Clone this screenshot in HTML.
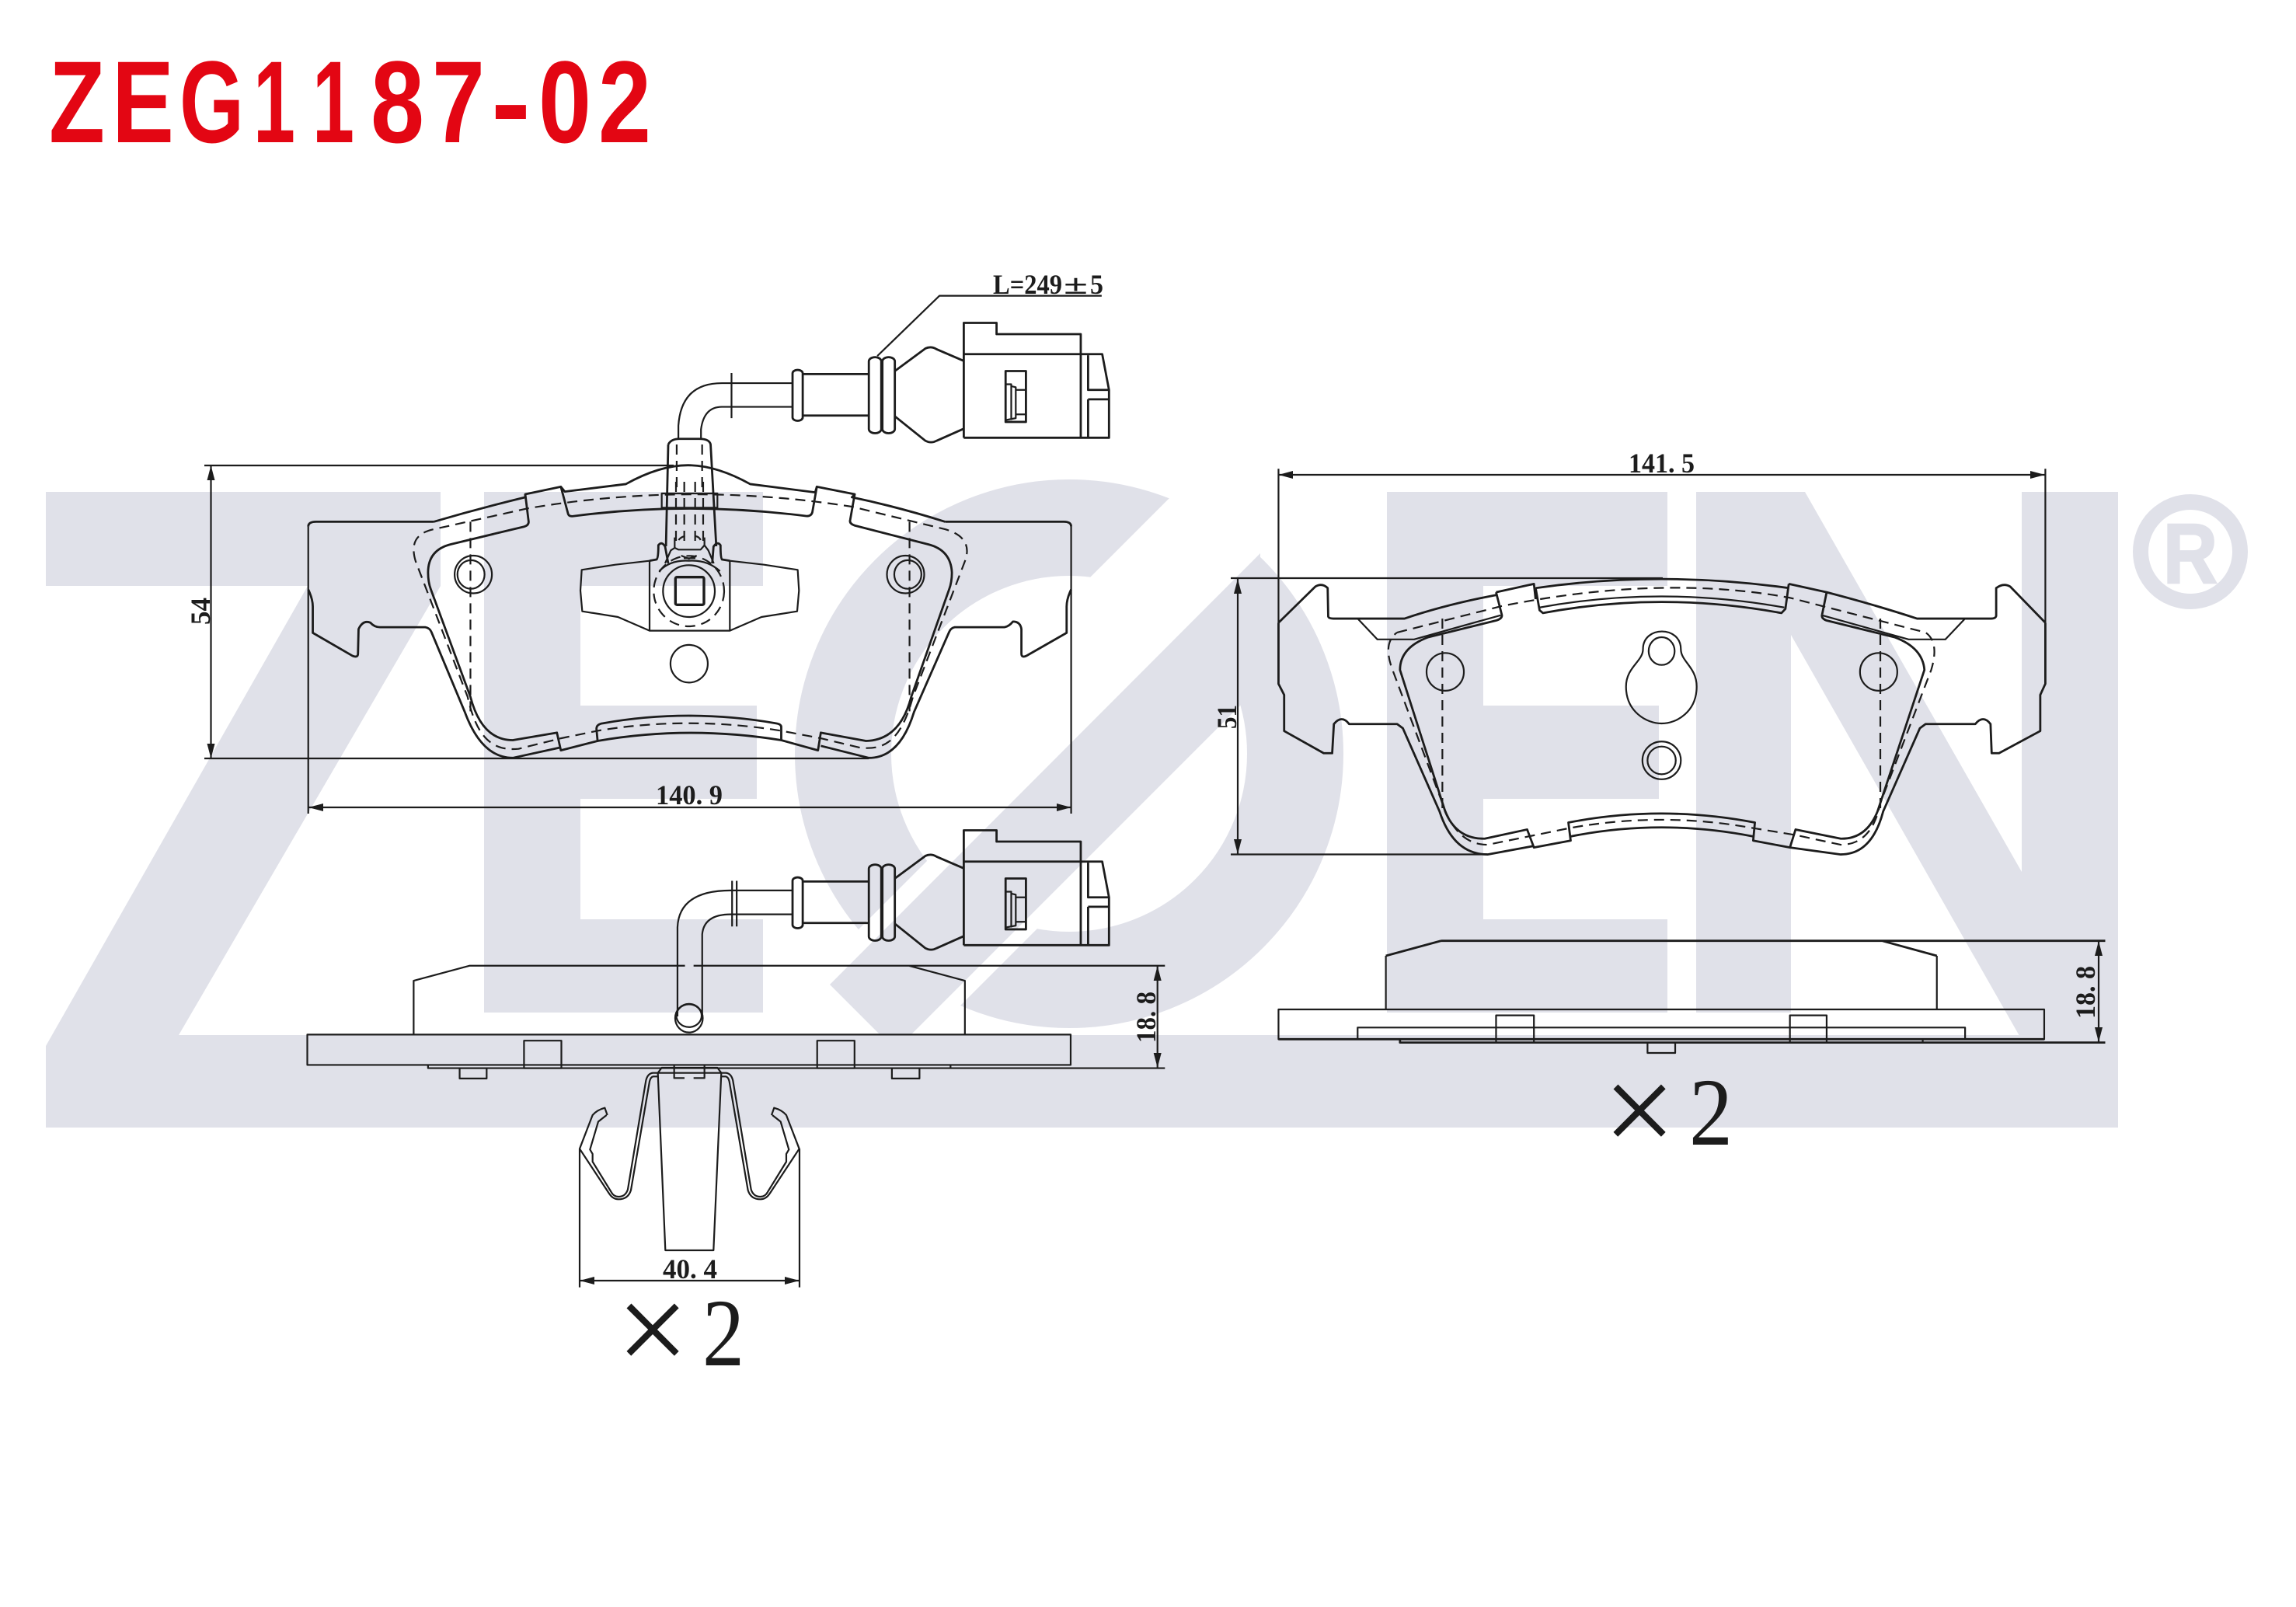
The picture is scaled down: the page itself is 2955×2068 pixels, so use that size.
<!DOCTYPE html>
<html><head><meta charset="utf-8"><title>ZEG1187-02</title>
<style>
html,body{margin:0;padding:0;background:#fff}
svg{display:block}
.d path,.d line,.d rect,.d ellipse,.d polyline,.d circle{vector-effect:non-scaling-stroke;fill:none;stroke:#1c1c1c;stroke-width:2.2;stroke-linejoin:round}
.d .h{stroke-dasharray:13 8}
.d .b{stroke-width:2.8}
.a polygon{fill:#1c1c1c}
.t{font-family:"Liberation Serif",serif;fill:#1c1c1c;font-weight:bold;font-size:36px}
.ttl text{font-family:"Liberation Sans",sans-serif;font-weight:bold;font-size:150px;fill:#e30613}
</style></head><body>
<svg xmlns="http://www.w3.org/2000/svg" width="2955" height="2068" viewBox="0 0 2955 2068">
<rect width="2955" height="2068" fill="#fff"/>
<!-- watermark -->
<g fill="#e0e1e9">
<polygon points="59,633 567,633 567,754 230,1332 2726,1332 2726,1451 59,1451 59,1346 396,754 59,754"/>
<polygon points="623,633 982,633 982,754 747,754 747,908 974,908 974,1028 747,1028 747,1183 982,1183 982,1303 623,1303"/>
<circle cx="1376" cy="970" r="291" fill="none" stroke="#e0e1e9" stroke-width="124"/>
<polygon points="1546,600 1735,600 1435,900 1246,900" fill="#fff"/>
<polygon points="1301,1000 1335,1000 1005,1330 971,1330" fill="#fff"/>
<polygon points="1502,1000 1530,1000 1200,1330 1172,1330" fill="#fff"/>
<polygon points="1068,1267 1135,1334 1170,1334 1620,884 1622,712"/>
<polygon points="1785,633 2146,633 2146,754 1909,754 1909,908 2135,908 2135,1028 1909,1028 1909,1183 2146,1183 2146,1303 1785,1303"/>
<polygon points="2183,633 2323,633 2602,1122 2602,633 2726,633 2726,1340 2603,1340 2305,817 2305,1303 2183,1303"/>
<circle cx="2819" cy="710" r="64" fill="none" stroke="#e0e1e9" stroke-width="20"/>
<text x="2784" y="750" font-family="'Liberation Sans',sans-serif" font-weight="bold" font-size="109" stroke="#e0e1e9" stroke-width="2.5" textLength="70" lengthAdjust="spacingAndGlyphs">R</text>
</g>
<!-- title -->
<g class="ttl">
<text x="63" y="183" textLength="72" lengthAdjust="spacingAndGlyphs">Z</text>
<text x="144" y="183" textLength="80" lengthAdjust="spacingAndGlyphs">E</text>
<text x="231" y="183" textLength="83" lengthAdjust="spacingAndGlyphs">G</text>
<text x="326" y="183" textLength="54" lengthAdjust="spacingAndGlyphs">1</text>
<text x="402" y="183" textLength="54" lengthAdjust="spacingAndGlyphs">1</text>
<text x="477" y="183" textLength="69" lengthAdjust="spacingAndGlyphs">8</text>
<text x="556" y="183" textLength="68" lengthAdjust="spacingAndGlyphs">7</text>
<text x="632" y="183" textLength="51" lengthAdjust="spacingAndGlyphs">-</text>
<text x="693" y="183" textLength="68" lengthAdjust="spacingAndGlyphs">0</text>
<text x="770" y="183" textLength="68" lengthAdjust="spacingAndGlyphs">2</text>
</g>

<g class="d">
<!-- PAD 1 front -->
<g transform="translate(340,320) scale(.7273,.4847)">
<path class="b" d="M300,725 L92,725 Q78,725 78,738"/>
<path d="M78,738 L78,1500"/>
<path class="b" d="M78,905 Q86,930 86,950 L86,1020 L155,1080 Q166,1088 166,1075 L167,1010 Q175,985 188,993 Q195,1005 205,1005 L285,1005 Q293,1007 296,1018 L355,1230 Q385,1352 440,1352 L522,1325"/>
<path class="b" d="M590,1307 Q750,1265 915,1305"/>
<path class="b" d="M985,1320 L1070,1352 Q1125,1352 1150,1230 L1212,1018 Q1215,1007 1222,1005 L1310,1005 Q1318,1003 1325,990 Q1338,990 1340,1010 L1340,1075 Q1340,1088 1350,1080 L1420,1020 L1420,950 Q1420,930 1428,905"/>
<path class="b" d="M1205,725 L1415,725 Q1428,725 1428,738"/>
<path d="M1428,738 L1428,1500"/>
<path class="b" d="M300,725 Q380,690 462,660 L462,652 L525,632 L532,645 L640,625 Q700,575 750,575 Q800,575 860,625 L975,647 L978,632 L1045,652 L1040,660 Q1120,685 1205,725"/>
<path class="b" d="M462,652 L468,725 Q468,735 460,738 L330,785 Q290,800 290,860 Q290,885 295,905 L365,1190 Q385,1305 440,1305 L518,1285 L525,1332 L590,1307 L588,1275 Q588,1262 600,1260 Q750,1220 905,1260 Q915,1262 915,1270 L915,1305 L980,1332 L985,1285 L1065,1307 Q1125,1305 1145,1190 L1212,905 Q1217,885 1217,860 Q1215,800 1175,785 L1045,735 Q1035,730 1037,720 L1045,652"/>
<path class="b" d="M525,632 L538,705 Q540,712 548,710 Q750,670 960,710 Q968,710 970,700 L978,632"/>
<path class="h" d="M268,830 C258,780 270,755 300,745 L465,690 Q750,617 1040,685 L1205,745 C1240,760 1250,790 1240,830 L1148,1190 C1125,1320 1090,1330 1055,1325 L985,1300 L915,1280 Q750,1240 590,1280 L525,1300 L450,1328 C400,1335 375,1290 360,1190 Z"/>
<path class="h" d="M365,725 L365,1240 M1142,725 L1142,1240"/>
<ellipse cx="370" cy="865" rx="33" ry="50"/><ellipse cx="366" cy="865" rx="24" ry="38"/>
<ellipse cx="1135" cy="865" rx="33" ry="50"/><ellipse cx="1139" cy="865" rx="24" ry="38"/>
<ellipse cx="752" cy="1102" rx="33" ry="50"/>
<!-- tube -->
<path d="M733,505 L733,470 Q738,357 810,357 L935,357 M773,505 L773,480 Q778,420 810,420 L935,420 M827,330 L827,450"/>
<path class="b" d="M715,520 Q720,505 735,505 L770,505 Q788,505 790,520 L800,790 M715,520 L711,790"/>
<path class="h" d="M730,520 L730,650 M775,520 L775,650"/>
<path d="M1482,125 L1195,125 L1085,285"/>
</g>
<!-- detail at sensor -->
<g transform="translate(820,620) scale(.3333)">
<path class="b" d="M48,305 L75,300 Q82,295 82,245 Q95,228 108,250 L120,315 M358,305 L328,300 Q322,295 322,245 Q310,228 295,250 L290,315"/>
<path d="M48,305 L48,575 L358,575 L358,305"/>
<path d="M48,305 L-84,320 L-214,340 L-219,420 L-212,500 L-74,522 L48,575 M358,305 L490,320 L620,340 L625,420 L618,500 L480,522 L358,575"/>
<rect x="95" y="45" width="215" height="55"/>
<circle cx="200" cy="422" r="100"/>
<circle class="h" cx="200" cy="422" r="136"/>
<rect class="b" x="148" y="368" width="110" height="107" rx="6" style="stroke-width:3.4"/>
<path d="M85,345 Q130,300 200,305 Q270,300 320,345"/>
<path class="h" d="M150,0 L150,230 M182,0 L182,230 M224,0 L224,230 M255,0 L255,230"/>
<path d="M145,215 L145,255 L160,262 L245,262 L260,245 L260,215 M160,225 Q170,212 185,210 M225,210 Q240,212 245,225 M170,285 L200,297 L230,285 M180,295 L225,295 M145,255 L130,265 L108,315 M260,245 L275,265 L296,315"/>
</g>
<!-- connector -->
<g transform="translate(340,320) scale(.7273,.4847)">
<rect class="b" x="935" y="322" width="18" height="135" rx="9"/>
<path class="b" d="M953,333 L1070,333 M953,443 L1070,443"/>
<rect class="b" x="1070" y="288" width="22" height="202" rx="11"/>
<rect class="b" x="1094" y="288" width="22" height="202" rx="11"/>
<path class="b" d="M1116,325 L1170,265 Q1180,258 1190,267 L1238,298 M1116,445 L1170,510 Q1180,518 1190,510 L1238,478"/>
<path class="b" d="M1238,502 L1238,197 L1296,197 L1296,227 L1445,227 L1445,502"/>
<path class="b" d="M1238,280 L1483,280 L1495,375 L1495,502 L1238,502"/>
<path class="b" d="M1458,283 L1458,375 L1495,375 M1458,400 L1495,400 M1458,400 L1458,502"/>
<rect class="b" x="1312" y="325" width="36" height="135"/>
<path d="M1312,360 L1322,360 L1322,455 M1322,365 L1330,368 L1330,450 L1312,455 M1330,375 L1348,375 M1330,440 L1348,440"/>
</g>
<g transform="translate(0,653)">
<g transform="translate(340,320) scale(.7273,.4847)">
<rect class="b" x="935" y="322" width="18" height="135" rx="9"/>
<path class="b" d="M953,333 L1070,333 M953,443 L1070,443"/>
<rect class="b" x="1070" y="288" width="22" height="202" rx="11"/>
<rect class="b" x="1094" y="288" width="22" height="202" rx="11"/>
<path class="b" d="M1116,325 L1170,265 Q1180,258 1190,267 L1238,298 M1116,445 L1170,510 Q1180,518 1190,510 L1238,478"/>
<path class="b" d="M1238,502 L1238,197 L1296,197 L1296,227 L1445,227 L1445,502"/>
<path class="b" d="M1238,280 L1483,280 L1495,375 L1495,502 L1238,502"/>
<path class="b" d="M1458,283 L1458,375 L1495,375 M1458,400 L1495,400 M1458,400 L1458,502"/>
<rect class="b" x="1312" y="325" width="36" height="135"/>
<path d="M1312,360 L1322,360 L1322,455 M1322,365 L1330,368 L1330,450 L1312,455 M1330,375 L1348,375 M1330,440 L1348,440"/>
</g></g>
<!-- PAD 1 side -->
<g transform="translate(360,1060) scale(.7398,.4592)">
<path d="M233,591 L233,440 L330,398 L705,398 M720,398 L1540,398 M1095,398 L1192,440 L1192,591"/>
<path d="M692,540 L692,290 Q695,187 785,187 L892,187 M735,540 L735,310 Q738,254 785,254 L892,254 M787,160 L787,288 M795,160 L795,288"/>
<ellipse cx="712" cy="545" rx="24" ry="40"/><ellipse cx="712" cy="538" rx="22" ry="32"/>
<rect x="48" y="591" width="1328" height="85"/>
<rect x="425" y="608" width="65" height="77"/><rect x="935" y="608" width="65" height="77"/>
<path d="M258,676 L258,685 L1540,685 M1167,676 L1167,685"/>
<rect x="313" y="685" width="47" height="29"/><rect x="1065" y="685" width="48" height="29"/>
</g>
<!-- spring -->
<g transform="translate(740,1360) scale(.3333)">
<path d="M320,62 L349,747 L535,747 L565,62 M320,62 L565,62 M320,62 L335,42 L550,42 L565,62 M423,82 L383,82 L383,30 M458,82 L500,82 L500,30"/>
<path d="M320,62 L300,62 Q280,65 274,92 L204,512 Q195,540 168,540 Q150,540 140,522 L68,405 L68,375 L58,358 L90,250 L122,225"/>
<path d="M320,76 L302,76 Q292,78 288,95 L216,515 Q205,550 168,550 Q145,550 130,525 L18,355 L68,225 Q85,205 115,197 L125,225"/>
<path d="M564,62 L584,62 Q604,65 610,92 L680,512 Q689,540 716,540 Q734,540 744,522 L816,405 L816,375 L826,358 L794,250 L762,225"/>
<path d="M564,76 L582,76 Q592,78 596,95 L668,515 Q679,550 716,550 Q739,550 754,525 L866,355 L816,225 Q799,205 769,197 L759,225"/>
<path d="M18,355 L18,890 M867,355 L867,890"/>
</g>
<!-- PAD 2 front -->
<g transform="translate(1620,580) scale(.7273,.3571)">
<path d="M35,65 L35,620 M1392,65 L1392,620"/>
<path class="b" d="M35,620 L100,490 Q112,475 122,495 L123,598 Q124,605 132,605 L258,605 Q330,555 420,520"/>
<path class="b" d="M35,620 L35,840 L45,880 L45,1010 L115,1090 L130,1090 L133,985 Q147,950 160,985 L245,985 L255,1000 L320,1300 Q345,1455 405,1455 L485,1425"/>
<path class="b" d="M1392,620 L1330,490 Q1318,475 1305,495 L1305,595 Q1304,605 1296,605 L1165,605 Q1090,555 1005,510"/>
<path class="b" d="M1392,620 L1392,840 L1383,880 L1383,1010 L1310,1090 L1297,1090 L1295,985 Q1282,950 1268,985 L1180,985 L1170,1000 L1105,1300 Q1085,1455 1030,1455 L940,1430"/>
<path class="b" d="M420,510 L487,480 L490,535 M490,495 Q712,430 938,495 M938,480 L1005,510 L997,590"/>
<path class="b" d="M420,510 L430,590 Q432,605 420,612 L300,672 Q250,710 250,790 L330,1300 Q350,1400 400,1398 L475,1365 L487,1430 L552,1405 L548,1340 Q712,1275 878,1340 L875,1405 L940,1430 L950,1365 L1030,1398 Q1075,1400 1095,1300 L1178,790 Q1175,710 1125,672 L1005,612 Q995,605 997,590"/>
<path d="M175,605 L210,680 L275,680 L428,593 M1250,605 L1215,680 L1150,680 L997,593"/>
<path class="b" d="M552,1390 Q712,1325 875,1390"/>
<path class="b" d="M490,495 L497,575 L503,585 Q712,505 925,585 L932,570 L938,480"/>
<path d="M497,565 Q712,485 930,565"/>
<path class="h" d="M245,655 L430,560 Q712,445 940,530 L1180,655 Q1205,690 1190,790 L1100,1270 Q1085,1420 1030,1420 L950,1385 L875,1360 Q712,1300 550,1360 L405,1420 Q350,1420 325,1270 L235,780 Q220,690 245,655"/>
<path class="h" d="M325,605 L325,1300 M1100,605 L1100,1300"/>
<ellipse cx="330" cy="797" rx="33" ry="68"/><ellipse cx="1097" cy="797" rx="33" ry="68"/>
<path d="M680,715 C680,630 747,630 747,715 C747,760 775,780 775,850 C775,940 740,983 713,983 C686,983 650,940 650,850 C650,780 680,760 680,715 Z"/>
<ellipse cx="713" cy="722" rx="23" ry="50"/>
<ellipse cx="713" cy="1116" rx="34" ry="68"/><ellipse cx="713" cy="1116" rx="25" ry="50"/>
</g>
<!-- PAD 2 side -->
<g transform="translate(1620,1180) scale(.7273,.3333)">
<path class="b" d="M323,92 L1498,92 M323,92 L225,150 M1103,92 L1200,150"/>
<path d="M225,150 L225,357 M1200,150 L1200,357"/>
<rect x="35" y="357" width="1355" height="115"/>
<path class="b" d="M35,472 L1390,472"/>
<path d="M175,472 L175,427 L1250,427 L1250,472"/>
<rect x="420" y="380" width="67" height="105"/><rect x="940" y="380" width="65" height="105"/>
<path class="b" d="M250,472 L250,485 L1498,485"/>
<path d="M1175,472 L1175,485"/>
<path d="M688,485 L688,525 L737,525 L737,485"/>
</g>
<!-- dimension lines -->
<path d="M397,1039 L1378,1039"/>
<path d="M867,599 L263,599 M1118,976 L263,976 M271.5,599 L271.5,976"/>
<path d="M1645,611 L2632,611"/>
<path d="M1584,744 L2140,744 M1584,1099.5 L1914,1099.5 M1593,745 L1593,1099"/>
<path d="M1489.7,1243 L1489.7,1374"/>
<path d="M2701,1211 L2701,1341"/>
<path d="M746,1648 L1029,1648"/>
</g>
<g class="a">
<polygon points="397,1039 416,1034 416,1044"/><polygon points="1378.6,1039 1360,1034 1360,1044"/>
<polygon points="271.5,599 266.5,618 276.5,618"/><polygon points="271.5,976 266.5,957 276.5,957"/>
<polygon points="1645.5,611 1664,606 1664,616"/><polygon points="2632,611 2613,606 2613,616"/>
<polygon points="1593,745 1588,764 1598,764"/><polygon points="1593,1099 1588,1080 1598,1080"/>
<polygon points="1489.7,1243 1484.7,1262 1494.7,1262"/><polygon points="1489.7,1374 1484.7,1355 1494.7,1355"/>
<polygon points="2701,1211 2696,1230 2706,1230"/><polygon points="2701,1341 2696,1322 2706,1322"/>
<polygon points="746,1648 765,1643 765,1653"/><polygon points="1029,1648 1010,1643 1010,1653"/>
</g>
<!-- labels -->
<text class="t" x="1278" y="378" textLength="89" lengthAdjust="spacingAndGlyphs">L=249</text>
<text class="t" x="1369" y="378" textLength="31" lengthAdjust="spacingAndGlyphs">±</text>
<text class="t" x="1403" y="378" textLength="17" lengthAdjust="spacingAndGlyphs">5</text>
<text class="t" x="844" y="1035" textLength="86" lengthAdjust="spacingAndGlyphs">140. 9</text>
<text class="t" x="2096" y="608" textLength="85" lengthAdjust="spacingAndGlyphs">141. 5</text>
<text class="t" x="853" y="1645" textLength="70" lengthAdjust="spacingAndGlyphs">40. 4</text>
<text class="t" transform="translate(270,804) rotate(-90)" textLength="35" lengthAdjust="spacingAndGlyphs">54</text>
<text class="t" transform="translate(1591,938) rotate(-90)" textLength="31" lengthAdjust="spacingAndGlyphs">51</text>
<text class="t" transform="translate(1487,1342) rotate(-90)" textLength="66" lengthAdjust="spacingAndGlyphs">18. 8</text>
<text class="t" transform="translate(2696,1311) rotate(-90)" textLength="68" lengthAdjust="spacingAndGlyphs">18. 8</text>
<g fill="#1c1c1c">
<text x="840" y="1766" text-anchor="middle" font-family="'Liberation Serif',serif" font-size="165">×</text>
<text x="904" y="1757" font-family="'Liberation Serif',serif" font-size="124" textLength="54" lengthAdjust="spacingAndGlyphs">2</text>
<text x="2110" y="1484" text-anchor="middle" font-family="'Liberation Serif',serif" font-size="165">×</text>
<text x="2174" y="1473" font-family="'Liberation Serif',serif" font-size="124" textLength="56" lengthAdjust="spacingAndGlyphs">2</text>
</g>
</svg>
</body></html>
